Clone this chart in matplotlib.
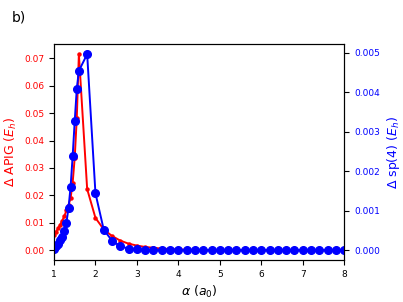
import matplotlib.pyplot as plt

# Valores (alpha em a0)
alpha = [1.0, 1.05, 1.1, 1.15, 1.2, 1.25, 1.3, 1.35, 1.4, 1.45, 1.5, 1.55, 1.6,
         1.8, 2.0, 2.2, 2.4, 2.6, 2.8, 3.0, 3.2, 3.4, 3.6, 3.8, 4.0, 4.2, 4.4,
         4.6, 4.8, 5.0, 5.2, 5.4, 5.6, 5.8, 6.0, 6.2, 6.4, 6.6, 6.8, 7.0, 7.2,
         7.4, 7.6, 7.8, 8.0]

# Delta APIG (Eh)
apig = [0.0055, 0.0068, 0.0080, 0.0093, 0.0108, 0.0125, 0.0145, 0.0165, 0.0190,
        0.0246, 0.0338, 0.0484, 0.0715, 0.0223, 0.0118, 0.0076, 0.0052, 0.0035,
        0.0024, 0.0017, 0.0012, 0.0009, 0.0006, 0.0004, 0.0003, 0.0002, 0.00015,
        0.0001, 0.00008, 0.00006, 0.00005, 0.00004, 0.00003, 0.00003, 0.00002,
        0.00002, 0.00002, 0.00001, 0.00001, 0.00001, 0.00001, 0.00001, 0.00001,
        0.00001, 0.00001]

# Delta sp(4) (Eh)
sp4 = [0.00004, 0.0001, 0.00017, 0.00025, 0.00034, 0.00048, 0.0007, 0.00107,
       0.0016, 0.00238, 0.00327, 0.00409, 0.00454, 0.00496, 0.00144, 0.00052,
       0.00024, 0.0001, 0.00004, 0.00002, 0.00001, 0.0, 0.0, 0.0, 0.0, 0.0,
       0.0, 0.0, 0.0, 0.0, 0.0, 0.0, 0.0, 0.0, 0.0, 0.0, 0.0, 0.0, 0.0, 0.0,
       0.0, 0.0, 0.0, 0.0, 0.0]

fig = plt.figure(figsize=(4.03, 3.02), dpi=100)
ax1 = fig.add_axes([0.134, 0.139, 0.720, 0.714])

ax1.plot(alpha, apig, color='red', marker='o', markersize=2.2, linewidth=1.4)
ax1.set_xlim(1, 8)
ax1.set_xlabel(r'$\alpha$ ($a_0$)', fontsize=9)
ax1.set_ylabel(r'$\Delta$ APIG ($E_h$)', color='red', fontsize=9)
ax1.tick_params(axis='y', labelcolor='red', labelsize=6.5)
ax1.tick_params(axis='x', labelsize=6.5)

ax2 = ax1.twinx()
ax2.plot(alpha, sp4, color='blue', marker='o', markersize=5.5, linewidth=1.4)
ax2.set_ylabel(r'$\Delta$ sp(4) ($E_h$)', color='blue', fontsize=9)
ax2.tick_params(axis='y', labelcolor='blue', labelsize=6.5)

fig.text(0.03, 0.93, 'b)', fontsize=10)

plt.savefig('out.png', dpi=100)
